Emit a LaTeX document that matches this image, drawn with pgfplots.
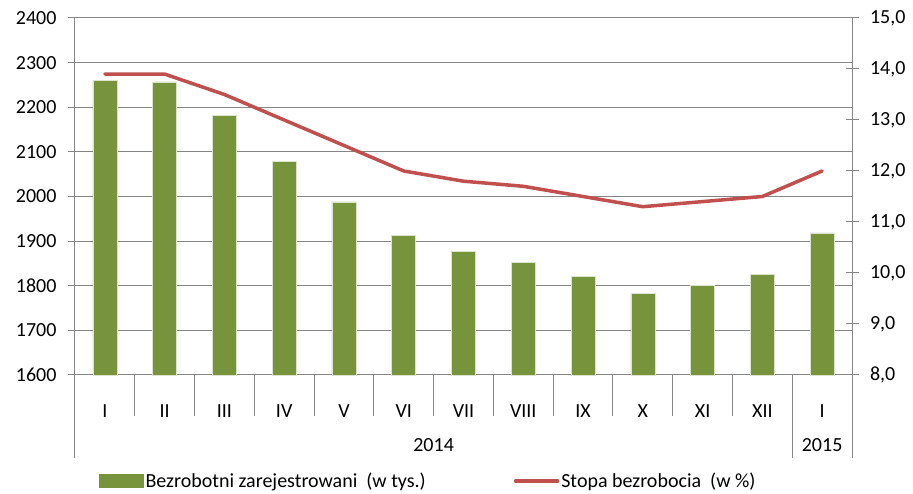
\documentclass[border=0pt]{standalone}
\usepackage{fontspec}
\setmainfont{Carlito}
\usepackage{pgfplots}
\pgfplotsset{compat=1.18}
\definecolor{barg}{HTML}{77933C}
\definecolor{liner}{HTML}{C0504D}
\definecolor{gridg}{HTML}{868686}
\begin{document}
\begin{tikzpicture}[font=\fontsize{20}{24}\selectfont]
\begin{axis}[
  scale only axis, width=777pt, height=357pt,
  xmin=-0.5, xmax=12.5, ymin=1600, ymax=2400,
  axis x line*=bottom, axis y line*=left,
  axis line style={gridg, line width=1pt},
  ytick={1600,1700,...,2400},
  xtick={0,...,12},
  xticklabels={I,II,III,IV,V,VI,VII,VIII,IX,X,XI,XII,I},
  x tick style={draw=none},
  xticklabel style={anchor=base, yshift=-36pt},
  y tick style={gridg, line width=1pt},
  tick align=outside, major tick length=7pt,
  yticklabel style={xshift=-8pt},
  /pgf/number format/assume math mode=true,
  /pgf/number format/1000 sep={},
  ymajorgrids, grid style={gridg, line width=1pt},
  clip=false,
]
\addplot[ybar, bar width=24pt, fill=barg, draw=white!75!barg, line width=0.6pt] coordinates {
(0,2260.7) (1,2256.8) (2,2182.1) (3,2079.5) (4,1987.7) (5,1912.5) (6,1876.2)
(7,1852.5) (8,1821.0) (9,1782.2) (10,1800.1) (11,1825.2) (12,1918.6)};
\pgfplotsinvokeforeach{0.5,1.5,2.5,3.5,4.5,5.5,6.5,7.5,8.5,9.5,10.5}{
  \draw[gridg, line width=1pt] (axis cs:#1,1600) -- ([yshift=-41pt]axis cs:#1,1600);
}
\pgfplotsinvokeforeach{-0.5,11.5,12.5}{
  \draw[gridg, line width=1pt] (axis cs:#1,1600) -- ([yshift=-83pt]axis cs:#1,1600);
}
\node[anchor=base, yshift=-77pt] at (axis cs:5.5,1600) {2014};
\node[anchor=base, yshift=-77pt] at (axis cs:12,1600) {2015};
\coordinate (ll) at (rel axis cs:0,0);
\coordinate (ur) at (rel axis cs:1,1);
\end{axis}
\begin{axis}[
  scale only axis, width=777pt, height=357pt,
  xmin=-0.5, xmax=12.5, ymin=8, ymax=15,
  axis x line=none, axis y line*=right,
  axis line style={gridg, line width=1pt},
  ytick={8,9,...,15},
  y tick style={gridg, line width=1pt},
  tick align=center, major tick length=13pt,
  yticklabel style={xshift=8pt},
  /pgf/number format/assume math mode=true,
  /pgf/number format/fixed, /pgf/number format/fixed zerofill,
  /pgf/number format/precision=1, /pgf/number format/use comma,
  legend columns=2,
  legend style={draw=none, fill=none, at={(0.027,-0.297)}, anchor=west,
    /tikz/every even column/.append style={column sep=86pt}},
  legend cell align=left,
]
\addlegendimage{legend image code/.code={\fill[barg] (0pt,-6.5pt) rectangle (44pt,6.5pt);}}
\addlegendentry{Bezrobotni zarejestrowani\ \ (w tys.)}
\addplot[liner, line width=3.5pt, line cap=round, line join=round,
  legend image code/.code={\draw[liner, line width=3.5pt, line cap=round] (2pt,0pt)--(44pt,0pt);}] coordinates {
(0,13.9) (1,13.9) (2,13.5) (3,13.0) (4,12.5) (5,12.0) (6,11.8)
(7,11.7) (8,11.5) (9,11.3) (10,11.4) (11,11.5) (12,12.0)};
\addlegendentry{Stopa bezrobocia\ \ (w \%)}
\end{axis}
\pgfresetboundingbox
\path[use as bounding box] ([xshift=-75pt,yshift=-119pt]ll) rectangle ([xshift=61pt,yshift=18pt]ur);
\end{tikzpicture}
\end{document}
